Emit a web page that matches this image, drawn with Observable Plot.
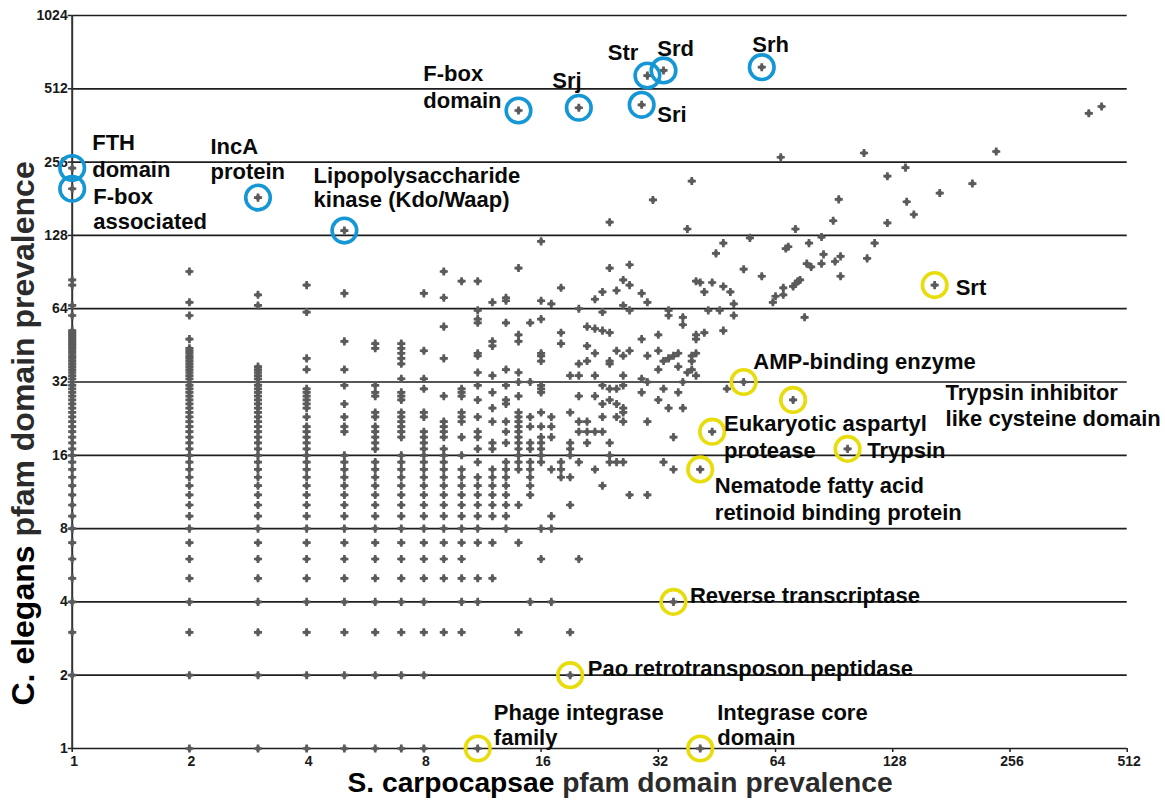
<!DOCTYPE html>
<html><head><meta charset="utf-8">
<script src="https://cdn.jsdelivr.net/npm/d3@7"></script>
<script src="https://cdn.jsdelivr.net/npm/@observablehq/plot@0.6"></script>
<style>body{margin:0;background:#fff}</style>
</head><body><div id="chart"></div>
<script>
// ---------- tick values ----------
const xTicks = [1, 2, 4, 8, 16, 32, 64, 128, 256, 512];
const yTicks = [1, 2, 4, 8, 16, 32, 64, 128, 256, 512, 1024];

// ---------- C. elegans counts for each low S. carpocapsae count ----------
const ceAtSc1 = [2,3,4,5,6,7,8,9,10,11,12,13,14,15,16,17,18,19,20,21,22,23,24,25,26,27,28,29,30,31,32,33,34,35,36,37,38,39,40,41,42,43,44,45,46,47,48,49,50,51,52,60,66,80,84];
const ceAtSc2 = [1,2,3,4,5,6,7,8,9,10,11,12,13,14,15,16,17,18,19,20,21,22,23,24,25,26,27,28,29,30,31,32,33,34,35,36,37,38,39,40,41,42,43,44,48,60,68,91];
const ceAtSc3 = [1,2,3,4,5,6,7,8,9,10,11,12,13,14,15,16,17,18,19,20,21,22,23,24,25,26,27,28,29,30,31,32,33,34,35,36,37,66,73];
const ceAtSc4 = [1,2,3,4,5,6,7,8,9,10,11,12,13,14,15,16,17,18,19,20,21,23,25,26,27,28,29,30,36,40,62,80];
const ceAtSc5 = [1,2,3,4,5,6,7,8,9,10,11,12,13,14,15,16,20,21,23,26,31,36,47,74];
const ceAtSc6 = [1,2,3,4,5,6,7,8,9,10,11,12,13,14,15,17,18,19,20,21,23,24,28,29,31,44,46];
const ceAtSc7 = [1,2,3,4,5,6,7,8,9,10,11,12,13,14,15,16,19,20,21,22,23,24,27,28,29,33,38,40,42,44,46];
const ceAtSc8 = [1,2,3,4,5,6,7,8,9,10,11,12,13,14,15,16,17,18,19,20,23,24,30,33,43,74];
const ceAtSc9 = [3,5,6,7,8,9,10,11,12,13,14,15,16,17,19,20,21,22,28,40,54,71,91];
const ceAtSc10 = [3,4,5,6,7,8,9,10,11,12,13,14,16,19,22,23,24,28,29,30,83];
const ceAtSc11 = [4,5,7,8,9,10,11,12,13,15,17,19,20,23,27,31,35,41,42,56,58,63,83];
const ceAtSc12 = [5,7,9,10,11,12,13,14,17,18,22,25,29,34,45,47,68];
const ceAtSc13 = [8,9,10,11,12,13,14,15,18,20,22,26,27,31,36,56,69,71];
const ceAtSc14 = [3,7,10,14,15,16,17,18,19,20,21,22,23,24,28,32,35,47,50,94];
const ceAtSc15 = [4,11,12,13,14,15,17,18,21,23,32,56];
const ceAtSc16 = [6,8,15,16,17,18,19,21,24,29,30,31,39,41,42,58,69,121];
const denseSc = [1,2,3,4,5,6,7,8,9,10,11,12,13,14,15,16];
const denseCe = [ceAtSc1,ceAtSc2,ceAtSc3,ceAtSc4,ceAtSc5,ceAtSc6,ceAtSc7,ceAtSc8,ceAtSc9,ceAtSc10,ceAtSc11,ceAtSc12,ceAtSc13,ceAtSc14,ceAtSc15,ceAtSc16];

// ---------- [S. carpocapsae, C. elegans] pairs, higher counts ----------
const pairsMid = [
  [17,4],[17,8],[17,9],[17,14],[17,19],[17,21],[17,23],[17,67],
  [18,13],[18,14],[18,15],[18,46],[18,51],[18,78],
  [19,3],[19,10],[19,13],[19,16],[19,17],[19,18],[19,24],[19,34],
  [20,6],[20,15],[20,20],[20,22],[20,28],[20,34],[20,38],[20,64],
  [21,18],[21,20],[21,22],[21,39],[21,45],[21,54],
  [22,14],[22,20],[22,28],[22,34],[22,42],[22,53],[22,70],
  [23,12],[23,20],[23,23],[23,26],[23,31],[23,52],[23,62],[23,75],
  [24,15],[24,16],[24,18],[24,27],[24,30],[24,38],[24,39],[24,51],[24,94],[24,145],
  [25,15],[25,23],[25,26],[25,30],[25,43],[25,76],
  [26,15],[26,22],[26,24],[26,25],[26,31],[26,34],[26,41],[26,66],[26,84],
  [27,11],[27,43],[27,63],[27,80],[27,97],
  [29,29],[29,33],[29,48],[29,74],
  [30,11],[30,22],[30,32],[30,41],[30,68],
  [31,179],
  [32,27],[32,36],[32,43],[32,50]
];
const pairsHigh = [
  [33,15],[33,30],[33,39],
  [34,25],[34,40],[34,60],[34,63],
  [35,14],[35,19],[35,41],
  [36,29],[36,37],[36,42],
  [37,25],[37,32],[37,55],[37,59],
  [38,35],[38,136],
  [39,36],[39,39],[39,41],[39,214],
  [40,34],[40,42],[40,48],[40,50],[40,83],
  [41,82],[42,51],[42,75],[43,63],[44,82],[45,108],[46,63],
  [47,52],[47,79],[47,119],[48,30],[49,75],[50,60],[50,67],
  [53,93],[55,125],[59,87],[63,68],[64,72],[66,268],
  [67,73],[67,78],[68,113],[69,115],[71,79],[72,81],[72,136],
  [73,83],[74,84],[76,59],[77,98],[78,119],[79,95],
  [84,98],[84,126],[85,107],[90,147],[91,100],[93,180],
  [94,87],[94,105],[108,279],[110,103],[115,119],
  [124,144],[124,224],[138,243],[139,176],[145,156],
  [169,191],[205,209],[236,283],[408,406],[440,433]
];

// ---------- highlighted domains ----------
const labelText = [
  "FTH\ndomain", "F-box\nassociated", "IncA\nprotein", "Lipopolysaccharide\nkinase (Kdo/Waap)",
  "F-box\ndomain", "Srj", "Str", "Srd", "Srh", "Sri",
  "Srt", "AMP-binding enzyme", "Trypsin inhibitor\nlike cysteine domain",
  "Eukaryotic aspartyl\nprotease", "Trypsin", "Nematode fatty acid\nretinoid binding protein",
  "Reverse transcriptase", "Pao retrotransposon peptidase", "Phage integrase\nfamily", "Integrase core\ndomain"
];
const labelSc = [1, 1, 3, 5, 14, 20, 30, 33, 59, 29, 164, 53, 71, 44, 98, 41, 35, 19, 11, 41];
const labelCe = [242, 199, 183, 134, 417, 428, 580, 609, 628, 440, 80, 32, 27, 20, 17, 14, 4, 2, 1, 1];
const labelGroup = ["C. elegans","C. elegans","C. elegans","C. elegans","C. elegans","C. elegans","C. elegans","C. elegans","C. elegans","C. elegans",
  "S. carpocapsae","S. carpocapsae","S. carpocapsae","S. carpocapsae","S. carpocapsae","S. carpocapsae","S. carpocapsae","S. carpocapsae","S. carpocapsae","S. carpocapsae"];

// ---------- label placement (pixels, relative to the circled point) ----------
const labelLayout = [
  {dx: 20, top: -33.4, gap: 26.5, anchor: "start"},
  {dx: 21, top: -0.6, gap: 25.5, anchor: "start"},
  {dx: -47.5, top: -59, gap: 25, anchor: "start"},
  {dx: -30.8, top: -63.3, gap: 23.5, anchor: "start"},
  {dx: -95.2, top: -45, gap: 27, anchor: "start"},
  {dx: -26.6, top: -35.6, gap: 0, anchor: "start"},
  {dx: -9.1, top: -31.8, gap: 0, anchor: "end"},
  {dx: -6.2, top: -30.7, gap: 0, anchor: "start"},
  {dx: -9.5, top: -30.7, gap: 0, anchor: "start"},
  {dx: 15.6, top: 1.6, gap: 0, anchor: "start"},
  {dx: 21, top: -6.3, gap: 0, anchor: "start"},
  {dx: 9.7, top: -28.8, gap: 0, anchor: "start"},
  {dx: 152.5, top: -16.2, gap: 26.7, anchor: "start"},
  {dx: 11.8, top: -16.2, gap: 26.7, anchor: "start"},
  {dx: 19.7, top: -6.7, gap: 0, anchor: "start"},
  {dx: 14.6, top: 7.8, gap: 26.7, anchor: "start"},
  {dx: 16.5, top: -14.7, gap: 0, anchor: "start"},
  {dx: 17.7, top: -14.7, gap: 0, anchor: "start"},
  {dx: 16.1, top: -44.7, gap: 25, anchor: "start"},
  {dx: 17, top: -44.7, gap: 25, anchor: "start"}
];

const FONT = "'Liberation Sans', Arial, Helvetica, sans-serif";
const LABEL_FS = 22;
const TICK_FS = 14;
const groupColor = {"C. elegans": "#1597d5", "S. carpocapsae": "#e8dd0c"};

// ---------- build table ----------
const points = [];
denseSc.forEach((sc, i) => denseCe[i].forEach(ce => points.push({sc, ce})));
for (const [sc, ce] of pairsMid) points.push({sc, ce});
for (const [sc, ce] of pairsHigh) points.push({sc, ce});
const highlights = labelSc.map((sc, i) => ({sc, ce: labelCe[i], text: labelText[i], group: labelGroup[i], i}));
for (const h of highlights) points.push({sc: h.sc, ce: h.ce});

const labelMarks = [];
highlights.forEach((h, i) => {
  const L = labelLayout[i];
  h.text.split("\n").forEach((line, j) => {
    labelMarks.push(Plot.text([h], {
      x: "sc", y: "ce", text: () => line,
      dx: L.dx, dy: L.top + j * L.gap + LABEL_FS * (0.716 - 0.32),
      textAnchor: L.anchor, fontSize: LABEL_FS, fontWeight: "bold", fill: "#0a0a0a"
    }));
  });
});

const chart = Plot.plot({
  width: 1165,
  height: 805,
  marginLeft: 71.7,
  marginRight: 38.3,
  marginTop: 15,
  marginBottom: 57,
  style: {fontFamily: FONT, background: "#fff", color: "#1a1a1a"},
  x: {type: "log", base: 2, domain: [1, 512], axis: null},
  y: {type: "log", base: 2, domain: [1, 1024], axis: null},
  marks: [
    Plot.ruleY(yTicks, {stroke: "#1e1e1e", strokeWidth: 1.7}),
    Plot.ruleX([1], {y1: 1, y2: 1024, stroke: "#333", strokeWidth: 2}),
    // tick marks (labels drawn separately below)
    Plot.axisX(xTicks, {anchor: "bottom", tickSize: 4, tickFormat: () => "", label: null, stroke: "#222", strokeWidth: 1.5}),
    Plot.axisY(yTicks, {anchor: "left", tickSize: 4, tickFormat: () => "", label: null, stroke: "#222", strokeWidth: 1.5}),
    // tick labels
    Plot.text(xTicks, {x: d => d, frameAnchor: "bottom", dy: 17.5, dx: 2, text: d => String(d),
      fontSize: TICK_FS, fontWeight: "bold", fill: "#1a1a1a", textAnchor: "middle"}),
    Plot.text(yTicks, {y: d => d, frameAnchor: "left", dx: -4.5, text: d => String(d),
      fontSize: TICK_FS, fontWeight: "bold", fill: "#1a1a1a", textAnchor: "end"}),
    // data
    Plot.dot(points, {x: "sc", y: "ce", symbol: "cross", r: 3.4, fill: "#5b5b5b"}),
    Plot.dot(points, {x: "sc", y: "ce", symbol: "circle", r: 2.5, fill: "#5b5b5b"}),
    Plot.dot(highlights.filter(d => d.group === "C. elegans"), {x: "sc", y: "ce", r: 12.3, fill: "none", stroke: groupColor["C. elegans"], strokeWidth: 3.6}),
    Plot.dot(highlights.filter(d => d.group === "S. carpocapsae"), {x: "sc", y: "ce", r: 12.3, fill: "none", stroke: groupColor["S. carpocapsae"], strokeWidth: 3.6}),
    ...labelMarks,
    Plot.text(["S. carpocapsae pfam domain prevalence"], {frameAnchor: "bottom-left", dx: 275.3, dy: 43,
      textAnchor: "start", fontSize: 28.2, fontWeight: "bold", fill: "#000"}),
    Plot.text(["C. elegans pfam domain prevalence"], {frameAnchor: "left", rotate: -90, dx: -48.5, dy: 323.5,
      textAnchor: "start", fontSize: 32, fontWeight: "bold", fill: "#000"})
  ]
});

// two-tone axis titles
d3.select(chart).selectAll("text").each(function () {
  const t = this.textContent;
  const m = t.match(/^(S\. carpocapsae|C\. elegans) (pfam domain prevalence)$/);
  if (!m) return;
  const sel = d3.select(this);
  sel.text(null);
  sel.append("tspan").attr("fill", "#000").text(m[1] + " ");
  sel.append("tspan").attr("fill", "#2b2b2b").text(m[2]);
});

document.getElementById("chart").appendChild(chart);
</script></body></html>
